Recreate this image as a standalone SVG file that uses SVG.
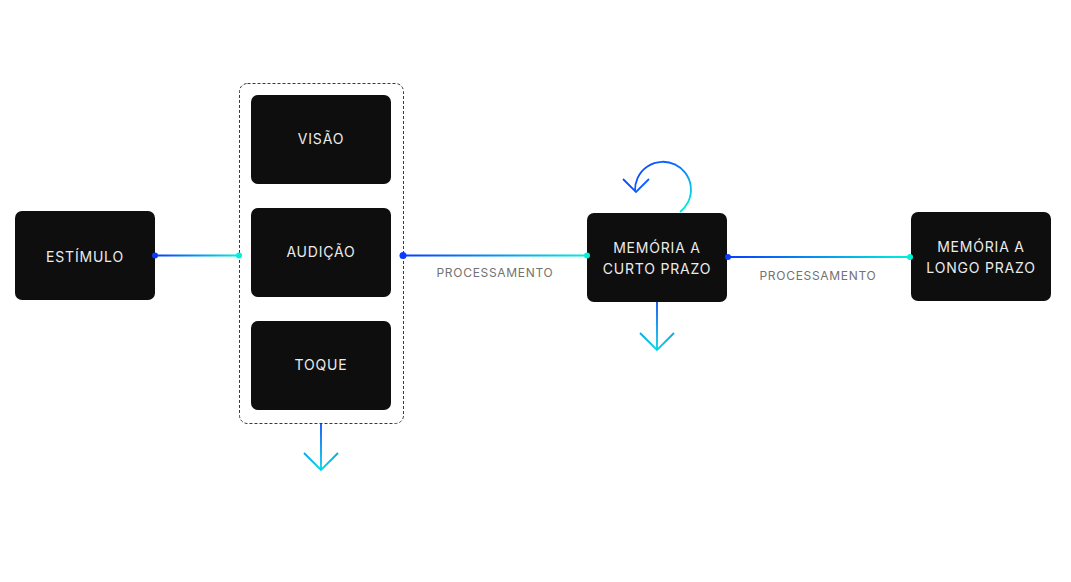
<svg xmlns="http://www.w3.org/2000/svg" width="1071" height="582" viewBox="0 0 1071 582">
<style>
.box{fill:#0e0e0e;}
.t{font-family:Inter,"Liberation Sans",sans-serif;font-size:14px;fill:#ebebeb;letter-spacing:0.8px;text-anchor:middle;}
.lbl{font-family:Inter,"Liberation Sans",sans-serif;font-size:12px;fill:#727272;letter-spacing:0.7px;text-anchor:middle;}
.ln{fill:none;stroke-width:1.8;}
</style>
<defs>
<linearGradient id="g1" gradientUnits="userSpaceOnUse" x1="155" y1="0" x2="239" y2="0"><stop offset="0" stop-color="#0a3cff"/><stop offset="1" stop-color="#00f0dc"/></linearGradient>
<linearGradient id="g2" gradientUnits="userSpaceOnUse" x1="403" y1="0" x2="587" y2="0"><stop offset="0" stop-color="#0a3cff"/><stop offset="1" stop-color="#00f0dc"/></linearGradient>
<linearGradient id="g3" gradientUnits="userSpaceOnUse" x1="728" y1="0" x2="910" y2="0"><stop offset="0" stop-color="#0a3cff"/><stop offset="1" stop-color="#00f0dc"/></linearGradient>
<linearGradient id="gd1" gradientUnits="userSpaceOnUse" x1="0" y1="424" x2="0" y2="470"><stop offset="0" stop-color="#0a50f0"/><stop offset="1" stop-color="#00d8e8"/></linearGradient>
<linearGradient id="gd2" gradientUnits="userSpaceOnUse" x1="0" y1="302" x2="0" y2="350"><stop offset="0" stop-color="#0a50f0"/><stop offset="1" stop-color="#00d8e8"/></linearGradient>
<linearGradient id="gl" gradientUnits="userSpaceOnUse" x1="685" y1="212" x2="640" y2="172"><stop offset="0" stop-color="#00f0dc"/><stop offset="0.5" stop-color="#0a7cff"/><stop offset="1" stop-color="#0a50ff"/></linearGradient>
</defs>
<rect width="1071" height="582" fill="#ffffff"/>
<g id="group-sentidos">
<rect x="239.5" y="83.5" width="164" height="340" rx="8" fill="none" stroke="#3a3a3a" stroke-width="1" stroke-dasharray="3 2"/>
</g>
<g id="estimulo"><rect class="box" x="15" y="211" width="140" height="89" rx="7"/><text class="t" x="85" y="262">ESTÍMULO</text></g>
<g id="visao"><rect class="box" x="251" y="95" width="140" height="89" rx="7"/><text class="t" x="321" y="144">VISÃO</text></g>
<g id="audicao"><rect class="box" x="251" y="208" width="140" height="89" rx="7"/><text class="t" x="321" y="257">AUDIÇÃO</text></g>
<g id="toque"><rect class="box" x="251" y="321" width="140" height="89" rx="7"/><text class="t" x="321" y="370">TOQUE</text></g>
<g id="curto"><rect class="box" x="587" y="213" width="140" height="89" rx="7"/><text class="t" x="657" y="253">MEMÓRIA A</text><text class="t" x="657" y="274">CURTO PRAZO</text></g>
<g id="longo"><rect class="box" x="911" y="212" width="140" height="89" rx="7"/><text class="t" x="981" y="252">MEMÓRIA A</text><text class="t" x="981" y="273">LONGO PRAZO</text></g>
<g id="connectors">
<line class="ln" x1="155" y1="255.5" x2="239" y2="255.5" stroke="url(#g1)"/>
<circle cx="155" cy="255.5" r="3" fill="#0a3cff"/><circle cx="239" cy="255.5" r="3" fill="#00f0dc"/>
<line class="ln" x1="403" y1="255.5" x2="587" y2="255.5" stroke="url(#g2)"/>
<circle cx="403" cy="255.5" r="3.5" fill="#0a3cff"/><circle cx="587" cy="255.5" r="3" fill="#00f0dc"/>
<text class="lbl" x="495" y="277">PROCESSAMENTO</text>
<line class="ln" x1="728" y1="257" x2="910" y2="257" stroke="url(#g3)"/>
<circle cx="728" cy="257" r="3" fill="#0a3cff"/><circle cx="910" cy="257" r="3" fill="#00f0dc"/>
<text class="lbl" x="818" y="280">PROCESSAMENTO</text>
<path class="ln" d="M321 424 V470 M304 453 L321 470 L338 453" stroke="url(#gd1)"/>
<path class="ln" d="M657 302 V350 M640 333 L657 350 L674 333" stroke="url(#gd2)"/>
<path class="ln" d="M680 212 A28 28 0 1 0 635 191 M623 179 L636 192 L649 179" stroke="url(#gl)"/>
</g>
</svg>
